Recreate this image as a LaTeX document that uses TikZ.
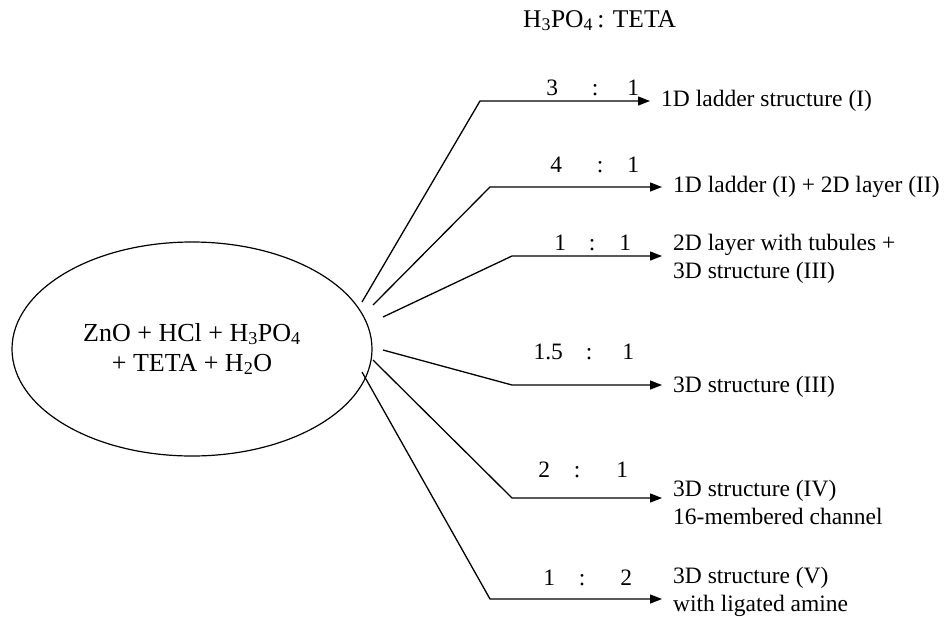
\documentclass[tikz,border=0pt]{standalone}
\usepackage{fontspec}
\setmainfont{Liberation Serif}
\usetikzlibrary{shapes.geometric,arrows.meta}

\begin{document}
\begin{tikzpicture}[x=1pt,y=-1pt,
  every node/.style={inner sep=0pt},
  txt/.style={font=\fontsize{23.5}{28}\selectfont},
  product/.style={txt,anchor=west,align=left,inner xsep=11pt},
  ratio/.style={txt,anchor=base west},
  flow/.style={line width=1.3pt,-{Triangle[length=12pt,width=9pt]}},
  mixture/.style={draw,line width=1.2pt,ellipse,minimum width=360pt,minimum height=214pt,
    align=center,font=\fontsize{26}{30}\selectfont}]

\useasboundingbox (0,0) rectangle (944,616);

% starting mixture
\node[mixture] (mix) at (192,349)
  {ZnO + HCl + H\textsubscript{3}PO\textsubscript{4}\\+ TETA + H\textsubscript{2}O};

% column heading for the molar ratios
\node[txt,anchor=base west,font=\fontsize{25.5}{28}\selectfont] (head) at (523,27)
  {H\textsubscript{3}PO\textsubscript{4}\,: TETA};

% start points of the connectors at the ellipse
\coordinate (s1) at (362,302);
\coordinate (s2) at (373,305);
\coordinate (s3) at (383,317);
\coordinate (s4) at (383,350);
\coordinate (s5) at (373,360);
\coordinate (s6) at (362,372);

% bend points
\coordinate (b1) at (480,101);
\coordinate (b2) at (490,187);
\coordinate (b3) at (512,256);
\coordinate (b4) at (512,385);
\coordinate (b5) at (512,498);
\coordinate (b6) at (490,599);

% products
\node[product] (p1) at (650,101) {1D ladder structure (I)};
\node[product] (p2) at (662,187) {1D ladder (I) + 2D layer (II)};
\node[product] (p3) at (662,259) {2D layer with tubules +\\3D structure (III)};
\node[product] (p4) at (662,387) {3D structure (III)};
\node[product] (p5) at (662,502) {3D structure (IV)\\16-membered channel};
\node[product] (p6) at (662,592) {3D structure (V)\\with ligated amine};

% molar ratios above the arrows
\node[ratio] (r1) at (552,95)  {\makebox[0pt]{3}\hspace{43pt}\makebox[0pt]{:}\hspace{38pt}\makebox[0pt]{1}};
\node[ratio] (r2) at (556,172) {\makebox[0pt]{4}\hspace{44pt}\makebox[0pt]{:}\hspace{33pt}\makebox[0pt]{1}};
\node[ratio] (r3) at (560,250) {\makebox[0pt]{1}\hspace{32pt}\makebox[0pt]{:}\hspace{33pt}\makebox[0pt]{1}};
\node[ratio] (r4) at (548,359) {\makebox[0pt]{1.5}\hspace{41pt}\makebox[0pt]{:}\hspace{39pt}\makebox[0pt]{1}};
\node[ratio] (r5) at (544,477) {\makebox[0pt]{2}\hspace{33pt}\makebox[0pt]{:}\hspace{45pt}\makebox[0pt]{1}};
\node[ratio] (r6) at (549,585) {\makebox[0pt]{1}\hspace{33pt}\makebox[0pt]{:}\hspace{44pt}\makebox[0pt]{2}};

% connectors
\draw[flow] (s1) -- (b1) -- (b1 -| p1.west);
\draw[flow] (s2) -- (b2) -- (b2 -| p2.west);
\draw[flow] (s3) -- (b3) -- (b3 -| p3.west);
\draw[flow] (s4) -- (b4) -- (b4 -| p4.west);
\draw[flow] (s5) -- (b5) -- (b5 -| p5.west);
\draw[flow] (s6) -- (b6) -- (b6 -| p6.west);
\end{tikzpicture}
\end{document}
